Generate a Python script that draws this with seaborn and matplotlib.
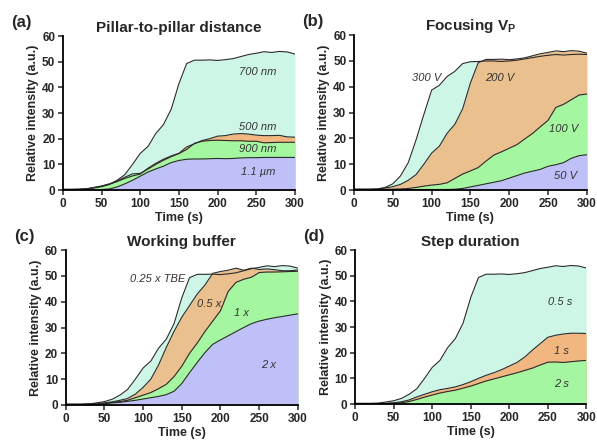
import numpy as np
import matplotlib
matplotlib.use("Agg")
import matplotlib.pyplot as plt
import seaborn as sns

sns.set_style("ticks")
plt.rcParams['font.family'] = ['Liberation Sans', 'DejaVu Sans']

# time axis (s)
time_s = list(range(0, 301, 10))

# reference condition (700 nm / 200 V / 0.25 x TBE / 0.5 s)
ref_curve = [0.3, 0.3, 0.3, 0.4, 0.8, 1.3, 2.2, 3.8, 6.0, 10.0, 14.3, 17.0, 22.0, 25.5, 31.5, 41.5,
             49.3, 50.6, 50.6, 50.7, 50.5, 50.8, 51.2, 52.0, 52.8, 53.3, 53.9, 53.6, 54.0, 53.8, 53.0]

# (a) pillar-to-pillar distance
a_500nm = [0.2, 0.2, 0.3, 0.5, 1.0, 1.5, 2.2, 3.3, 4.5, 5.5, 6.2, 8.5, 10.4, 12.0, 13.3, 14.3,
           16.8, 18.0, 19.3, 20.0, 21.0, 21.2, 21.8, 22.0, 21.8, 21.4, 21.2, 21.2, 21.3, 20.7, 20.6]
a_900nm = [0.2, 0.2, 0.2, 0.4, 0.9, 1.6, 2.4, 3.5, 5.0, 6.3, 6.5, 8.2, 10.0, 11.6, 13.0, 14.2,
           15.8, 18.2, 19.0, 19.3, 19.4, 19.3, 19.2, 19.2, 19.0, 19.0, 18.4, 18.5, 18.6, 18.6, 18.6]
a_1100nm = [0.0, 0.0, 0.0, 0.1, 0.1, 0.2, 0.4, 1.2, 2.4, 3.8, 5.4, 7.0, 8.2, 9.3, 10.7, 11.5,
            12.0, 12.1, 12.1, 12.2, 12.3, 12.2, 12.3, 12.5, 12.6, 12.6, 12.7, 12.7, 12.7, 12.7, 12.7]

# (b) focusing voltage
b_300V = [0.3, 0.3, 0.3, 0.4, 1.0, 2.4, 5.5, 10.7, 19.5, 29.3, 38.7, 40.6, 44.0, 46.0, 49.0, 49.7,
          49.8, 50.0, 50.0, 49.8, 50.0, 50.3, 50.8, 51.3, 51.8, 52.2, 52.5, 52.3, 52.5, 52.6, 52.5]
b_100V = [0.2, 0.2, 0.2, 0.2, 0.3, 0.3, 0.4, 0.6, 1.0, 1.5, 1.9, 2.2, 2.8, 4.5, 6.2, 7.4,
          8.7, 11.2, 13.5, 14.8, 16.2, 17.6, 19.8, 21.9, 24.5, 27.0, 32.0, 33.2, 35.0, 36.8, 37.2]
b_50V = [0.1, 0.1, 0.1, 0.1, 0.1, 0.2, 0.2, 0.2, 0.2, 0.2, 0.2, 0.2, 0.2, 0.3, 0.6, 1.2,
         1.8, 2.4, 3.0, 3.6, 4.6, 5.6, 6.6, 7.3, 8.0, 9.2, 9.8, 10.6, 12.3, 13.3, 13.7]

# (c) working buffer
c_05x = [0.2, 0.2, 0.2, 0.3, 0.5, 0.8, 1.2, 1.8, 2.5, 4.2, 6.8, 10.0, 15.5, 22.3, 28.5, 34.0,
         38.5, 43.0, 46.5, 51.0, 51.7, 52.2, 53.0, 52.2, 53.0, 52.5, 52.7, 52.4, 52.0, 52.0, 52.3]
c_1x = [0.2, 0.2, 0.2, 0.3, 0.4, 0.6, 1.0, 1.3, 1.8, 2.8, 3.8, 4.8, 6.3, 8.0, 11.0, 15.0,
        20.0, 24.0, 28.5, 32.5, 36.5, 44.0, 47.5, 48.7, 49.5, 51.3, 51.5, 51.5, 51.6, 51.7, 51.8]
c_2x = [0.2, 0.2, 0.2, 0.3, 0.4, 0.5, 0.8, 1.0, 1.4, 1.8, 2.3, 2.8, 3.3, 4.0, 5.3, 8.3,
        12.5, 16.5, 20.3, 23.5, 25.2, 26.8, 28.4, 30.0, 31.5, 32.5, 33.2, 33.8, 34.3, 34.8, 35.3]

# (d) step duration
d_1s = [0.1, 0.1, 0.1, 0.2, 0.3, 0.5, 0.9, 1.6, 2.8, 3.8, 4.8, 5.6, 6.1, 6.7, 7.6, 8.7,
        10.0, 11.2, 12.2, 13.4, 14.8, 16.2, 18.3, 21.0, 23.5, 26.0, 26.8, 27.3, 27.6, 27.6, 27.5]
d_2s = [0.1, 0.1, 0.1, 0.1, 0.2, 0.3, 0.5, 1.0, 1.8, 2.7, 3.5, 4.3, 4.9, 5.4, 6.2, 7.0,
        8.0, 9.0, 9.8, 10.6, 11.4, 12.2, 13.1, 14.0, 15.2, 16.3, 16.4, 16.2, 16.5, 16.8, 17.0]

mint = '#cdf6e6'
orange = '#f2b680'
tan = '#eac08f'
green = '#a4f7a0'
lavender = '#c0c0f8'

fig = plt.figure(figsize=(5.97, 4.45), dpi=100)
boxes = [[0.1055, 0.573, 0.3885, 0.346], [0.593, 0.573, 0.390, 0.348],
         [0.110, 0.090, 0.389, 0.348], [0.595, 0.092, 0.387, 0.346]]

panels = [
    ('(a)', 'Pillar-to-pillar distance',
     [(ref_curve, mint), (a_500nm, orange), (a_900nm, green), (a_1100nm, lavender)],
     [('700 nm', 252, 46), ('500 nm', 252, 24.5), ('900 nm', 252, 16), ('1.1 \u00b5m', 252, 7)]),
    ('(b)', 'Focusing V$_\\mathregular{P}$',
     [(b_300V, mint), (ref_curve, tan), (b_100V, green), (b_50V, lavender)],
     [('300 V', 93, 43.4), ('200 V', 188, 43.4), ('100 V', 270, 23.6), ('50 V', 273, 5.4)]),
    ('(c)', 'Working buffer',
     [(ref_curve, mint), (c_05x, tan), (c_1x, green), (c_2x, lavender)],
     [('0.25 x TBE', 119, 48.7), ('0.5 x', 185, 39.2), ('1 x', 227, 35.7), ('2 x', 262, 15.6)]),
    ('(d)', 'Step duration',
     [(ref_curve, mint), (d_1s, orange), (d_2s, green)],
     [('0.5 s', 266, 39.7), ('1 s', 268, 20.6), ('2 s', 268, 7.9)]),
]

for box, (tag, title, series, labels) in zip(boxes, panels):
    ax = fig.add_axes(box)
    for vals, col in series:
        ax.fill_between(time_s, 0, vals, color=col, lw=0, zorder=1)
        sns.lineplot(x=time_s, y=vals, ax=ax, color='#2b2b2b', lw=0.8, zorder=2)
    for txt, tx, ty in labels:
        ax.text(tx, ty, txt, fontsize=8, style='italic', color='#333333',
                ha='center', va='center', zorder=3)
    ax.set_xlim(0, 300)
    ax.set_ylim(0, 60)
    ax.set_xticks(range(0, 301, 50))
    ax.set_yticks(range(0, 61, 10))
    ax.set_xlabel('Time (s)', fontsize=9, fontweight='bold', labelpad=2)
    ax.set_ylabel('Relative intensity (a.u.)', fontsize=9, fontweight='bold', labelpad=2)
    ax.set_title(title, fontsize=11, fontweight='bold', pad=3)
    ax.tick_params(labelsize=8.5, width=1.1, length=3.5, pad=2, direction='out')
    for lab in ax.get_xticklabels() + ax.get_yticklabels():
        lab.set_fontweight('bold')
    sns.despine(ax=ax)
    for sp in ['left', 'bottom']:
        ax.spines[sp].set_linewidth(1.3)
        ax.spines[sp].set_color('black')
        ax.spines[sp].set_zorder(4)
    fig.text(box[0] - 0.087, box[1] + box[3] + 0.03, tag, fontsize=12, fontweight='bold',
             ha='left', va='center')

fig.savefig('out.png', dpi=100)
